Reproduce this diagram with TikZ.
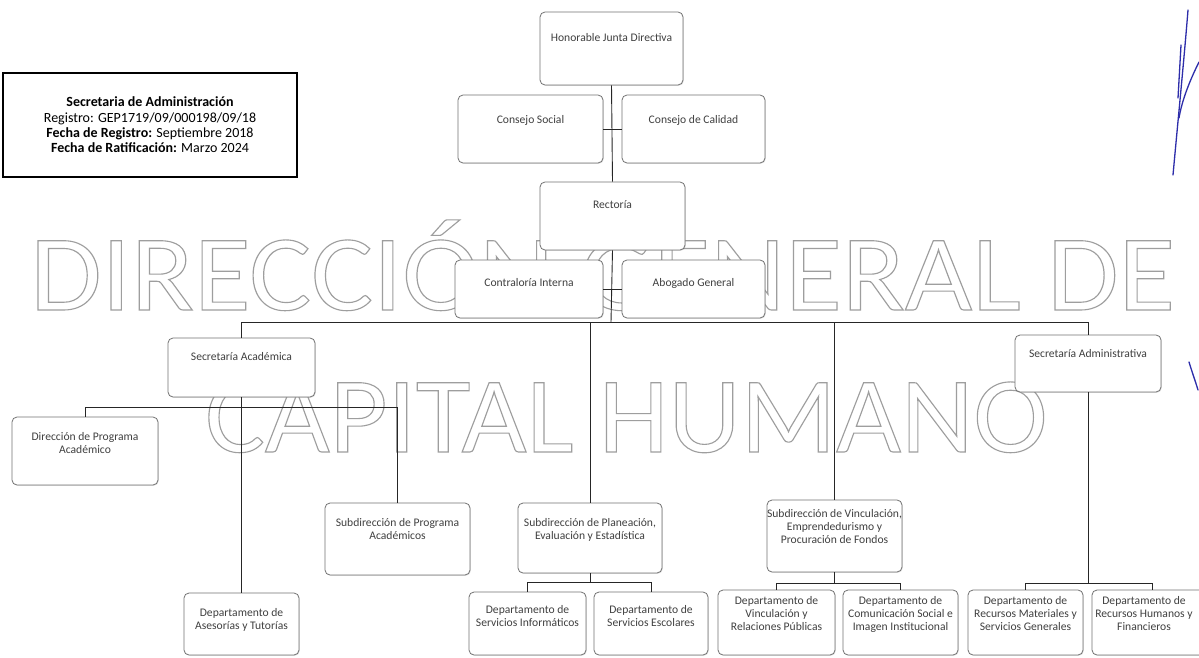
\documentclass[tikz,border=0pt]{standalone}
\usepackage{fontspec}
\setmainfont{Carlito}
\usetikzlibrary{shadows}
\newcommand\outl[1]{\special{pdf:literal q 1 Tr 1.1 w}#1\special{pdf:literal Q}}
\newcommand\obox[7]{%
  \pgfmathsetmacro\bw{#4-#2}\pgfmathsetmacro\bh{#5-#3}%
  \pgfmathsetmacro\bcx{(#2+#4)/2}\pgfmathsetmacro\bcy{(#3+#5)/2}%
  \node[orgbox, minimum width=\bw pt, minimum height=\bh pt] (#1) at (\bcx,\bcy) {};
  \node[orglabel] (#1-t) at (\bcx,#6) {#7};}
\tikzset{
  orgbox/.style={draw=black!55, line width=0.8pt, rounded corners=5pt, fill=white,
    inner sep=0pt, drop shadow={opacity=0.25, shadow xshift=0.8pt, shadow yshift=-0.8pt}},
  orglabel/.style={inner sep=0pt, align=center, text=black!75,
    font=\fontsize{11.6}{13}\selectfont},
  conn/.style={draw=black!85, line width=0.9pt},
  wm/.style={inner sep=0pt, text=black!38, font=\fontsize{108}{108}\selectfont},
  sig/.style={draw={rgb,255:red,45;green,45;blue,170}, line width=1.3pt, line cap=round}
}
\begin{document}
\begin{tikzpicture}[x=1pt,y=-1pt]
\useasboundingbox (0,0) rectangle (1199,658);
\fill[white] (0,0) rectangle (1199,658);
% watermark
\node[wm, anchor=base west, xscale=1.075] (wm1) at (30,310) {\outl{DIRECCIÓN GENERAL DE}};
\node[wm, anchor=base west, xscale=1.037] (wm2) at (205,452) {\outl{CAPITAL HUMANO}};
% info box
\node[draw=black, line width=1.6pt, minimum width=294pt, minimum height=104pt, inner sep=0pt,
  align=center, font=\fontsize{14}{15.3}\selectfont] (info) at (150,125)
  {\textbf{Secretaria de Administración}\\Registro: GEP1719/09/000198/09/18\\
   \textbf{Fecha de Registro:} Septiembre 2018\\\textbf{Fecha de Ratificación:} Marzo 2024};
% boxes
\obox{hjd}{540}{12}{683}{85}{38}{Honorable Junta Directiva}
\obox{cs}{458}{95}{603}{163}{120}{Consejo Social}
\obox{cc}{622}{95}{765}{163}{120}{Consejo de Calidad}
\obox{rect}{540}{182}{685}{250}{205}{Rectoría}
\obox{ci}{455}{260}{603}{318}{283}{Contraloría Interna}
\obox{ag}{622}{260}{765}{318}{283}{Abogado General}
\obox{seca}{168}{338}{315}{397}{357}{Secretaría Académica}
\obox{secad}{1015}{335}{1161}{392}{354}{Secretaría Administrativa}
\obox{dpa}{12}{417}{158}{485}{443.5}{Dirección de Programa\\Académico}
\obox{dat}{184}{593}{299}{655}{620}{Departamento de\\Asesorías y Tutorías}
\obox{spa}{325}{503}{470}{575}{529}{Subdirección de Programa\\Académicos}
\obox{spe}{518}{503}{662}{573}{529.5}{Subdirección de Planeación,\\Evaluación y Estadística}
\obox{svp}{767}{500}{902}{572}{527}{Subdirección de Vinculación,\\Emprendedurismo y\\Procuración de Fondos}
\obox{dsi}{469}{592}{586}{655}{616.5}{Departamento de\\Servicios Informáticos}
\obox{dse}{594}{592}{708}{655}{616.5}{Departamento de\\Servicios Escolares}
\obox{dvr}{718}{590}{835}{655}{614}{Departamento de\\Vinculación y\\Relaciones Públicas}
\obox{dcs}{843}{590}{958}{655}{614}{Departamento de\\Comunicación Social e\\Imagen Institucional}
\obox{drm}{968}{590}{1083}{655}{614}{Departamento de\\Recursos Materiales y\\Servicios Generales}
\node[orgbox, minimum width=120pt, minimum height=65pt] (drh) at (1152,622.5) {};
\node[orglabel] (drh-t) at (1144,614) {Departamento de\\Recursos Humanos y\\Financieros};
% bus coordinates
\coordinate (busM) at (611,322);
\coordinate (busA) at (0,407);
\coordinate (busP) at (0,582);
\coordinate (busV) at (0,583);
\coordinate (busR) at (0,583);
% connectors
\draw[conn] (hjd.south) -- (rect.north);
\draw[conn] (cs.east) -- (cc.west);
\draw[conn] (rect.south) -- (busM);
\draw[conn] (ci.east) -- (ag.west);
\draw[conn] (seca.north) -- (seca.north |- busM) -- (secad.north |- busM) -- (secad.north);
\draw[conn] (spe.north |- busM) -- (spe.north);
\draw[conn] (svp.north |- busM) -- (svp.north);
\draw[conn] (seca.south) -- (dat.north);
\draw[conn] (dpa.north) -- (dpa.north |- busA) -- (spa.north |- busA) -- (spa.north);
\draw[conn] (spe.south) -- (spe.south |- busP);
\draw[conn] (dsi.north) -- (dsi.north |- busP) -- (dse.north |- busP) -- (dse.north);
\draw[conn] (svp.south) -- (svp.south |- busV);
\draw[conn] (dvr.north) -- (dvr.north |- busV) -- (dcs.north |- busV) -- (dcs.north);
\draw[conn] (secad.south) -- (secad.south |- busR);
\draw[conn] (drm.north) -- (drm.north |- busR) -- (drh.north |- busR) -- (drh.north);
% signature strokes
\draw[sig] (1188,10) .. controls (1184,60) and (1178,120) .. (1173,175);
\draw[sig] (1199,62) .. controls (1190,80) and (1182,100) .. (1179,118);
\draw[sig] (1181,45) -- (1178,98);
\draw[sig] (1189,362) .. controls (1192,372) and (1195,380) .. (1198,390);
\end{tikzpicture}
\end{document}
